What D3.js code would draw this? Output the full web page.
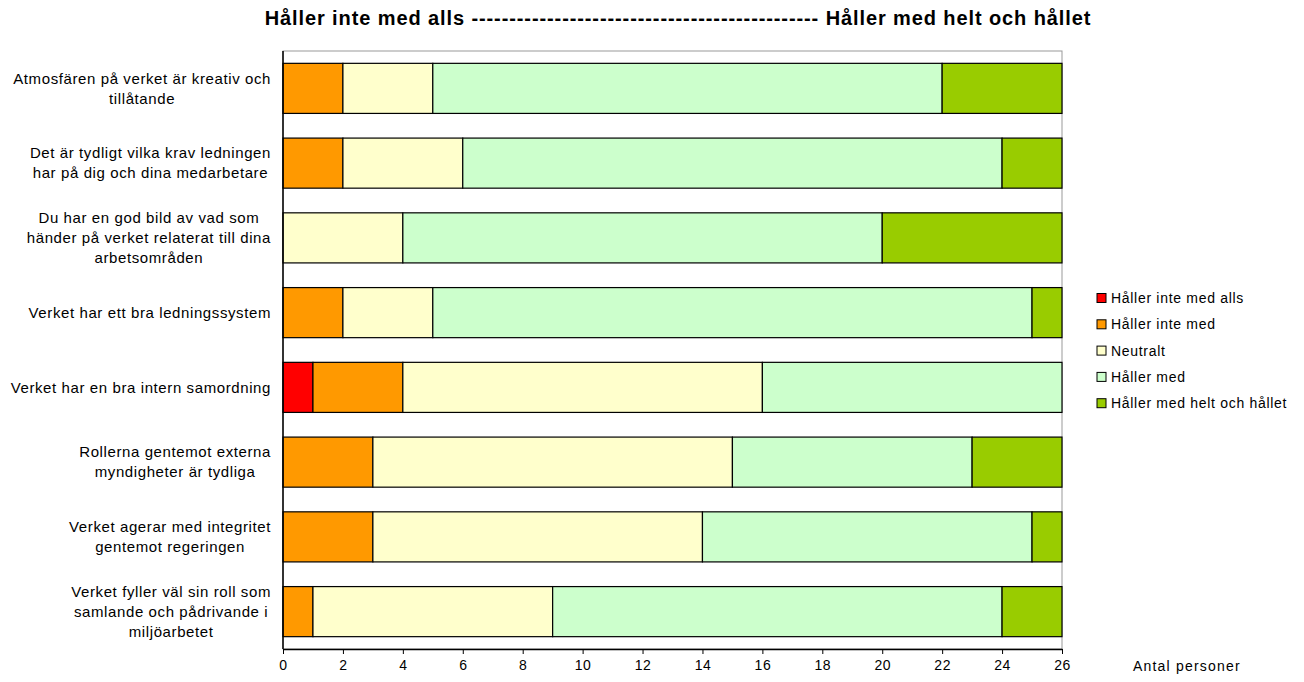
<!DOCTYPE html>
<html><head><meta charset="utf-8">
<script src="https://cdn.jsdelivr.net/npm/d3@7"></script>
<style>body{margin:0;background:#fff}svg{display:block;font-family:"Liberation Sans",Arial,sans-serif}</style>
</head><body><svg id="c" width="1304" height="682"></svg>
<script>
const title = "Håller inte med alls ---------------------------------------------- Håller med helt och hållet";
const categories = [
  "Atmosfären på verket är kreativ och\ntillåtande",
  "Det är tydligt vilka krav ledningen\nhar på dig och dina medarbetare",
  "Du har en god bild av vad som\nhänder på verket relaterat till dina\narbetsområden",
  "Verket har ett bra ledningssystem",
  "Verket har en bra intern samordning",
  "Rollerna gentemot externa\nmyndigheter är tydliga",
  "Verket agerar med integritet\ngentemot regeringen",
  "Verket fyller väl sin roll som\nsamlande och pådrivande i\nmiljöarbetet"
];
const seriesNames = ["Håller inte med alls","Håller inte med","Neutralt","Håller med","Håller med helt och hållet"];
const seriesColors = ["#FF0000","#FF9900","#FFFFCC","#CCFFCC","#99CC00"];
const hallerInteMedAlls = [0,0,0,0,1,0,0,0];
const hallerInteMed     = [2,2,0,2,3,3,3,1];
const neutralt          = [3,4,4,3,12,12,11,8];
const hallerMed         = [17,18,16,20,10,8,11,15];
const hallerMedHelt     = [4,2,6,1,0,3,1,2];
const xTicks = [0,2,4,6,8,10,12,14,16,18,20,22,24,26];
const xAxisTitle = "Antal personer";

const svg = d3.select("#c");
const L = 283, R = 1062, T = 51, B = 649;
const x = d3.scaleLinear().domain([0,26]).range([L,R]);
const y = d3.scaleBand().domain(categories).range([T,B]).paddingInner(0.33).paddingOuter(0.165);

const rows = categories.map((c,i)=>({cat:c, vals:[hallerInteMedAlls[i],hallerInteMed[i],neutralt[i],hallerMed[i],hallerMedHelt[i]]}));
const stacked = d3.stack().keys([0,1,2,3,4]).value((d,k)=>d.vals[k])(rows);

// plot border
svg.append("rect").attr("x",L).attr("y",T).attr("width",R-L).attr("height",B-T)
  .attr("fill","none").attr("stroke","#999").attr("stroke-width",1);

stacked.forEach((s,k)=>{
  svg.append("g").selectAll("rect").data(s.filter(d=>d[1]-d[0]>0)).join("rect")
    .attr("x",d=>x(d[0])).attr("width",d=>x(d[1])-x(d[0]))
    .attr("y",d=>y(d.data.cat)).attr("height",y.bandwidth())
    .attr("fill",seriesColors[k]).attr("stroke","#000").attr("stroke-width",1.2);
});

// axes
const xa = svg.append("g").attr("transform",`translate(0,${B})`)
  .call(d3.axisBottom(x).tickValues(xTicks).tickSize(5).tickSizeOuter(0));
xa.select(".domain").attr("stroke","#000").attr("stroke-width",1.5);
xa.selectAll(".tick line").attr("stroke","#000");
xa.selectAll(".tick text").attr("font-size",14).attr("letter-spacing",0.5)
  .attr("font-family","Liberation Sans, Arial, sans-serif").attr("fill","#000").attr("dy","0.95em");
svg.append("line").attr("x1",L).attr("x2",L).attr("y1",T).attr("y2",B).attr("stroke","#000").attr("stroke-width",1.5);

// category labels: block right-aligned to axis, lines centred within block
const labelRight = 271;
categories.forEach(c=>{
  const lines = c.split("\n");
  const cy = y(c)+y.bandwidth()/2;
  const lh = 20;
  const t = svg.append("text").attr("text-anchor","middle").attr("font-size",15).attr("letter-spacing",0.6).attr("fill","#000");
  const spans = lines.map((ln,i)=>t.append("tspan").attr("y",cy+(i-(lines.length-1)/2)*lh).attr("dy","0.35em").text(ln));
  const maxW = d3.max(spans, s=>s.node().getComputedTextLength());
  spans.forEach(s=>s.attr("x", labelRight - maxW/2));
});

// title
svg.append("text").attr("x",678).attr("y",25).attr("text-anchor","middle")
  .attr("font-size",20).attr("letter-spacing",0.9).attr("font-weight","bold").text(title);

// x-axis title
svg.append("text").attr("x",1133).attr("y",671).attr("font-size",14).attr("letter-spacing",1.2).text(xAxisTitle);

// legend
const lg = svg.append("g");
seriesNames.forEach((n,i)=>{
  const yy = 298 + i*26.3;
  lg.append("rect").attr("x",1097).attr("y",yy-4.5).attr("width",9).attr("height",9)
    .attr("fill",seriesColors[i]).attr("stroke","#000").attr("stroke-width",1);
  lg.append("text").attr("x",1111).attr("y",yy).attr("dy","0.35em").attr("font-size",14).attr("letter-spacing",0.7).text(n);
});
</script></body></html>
